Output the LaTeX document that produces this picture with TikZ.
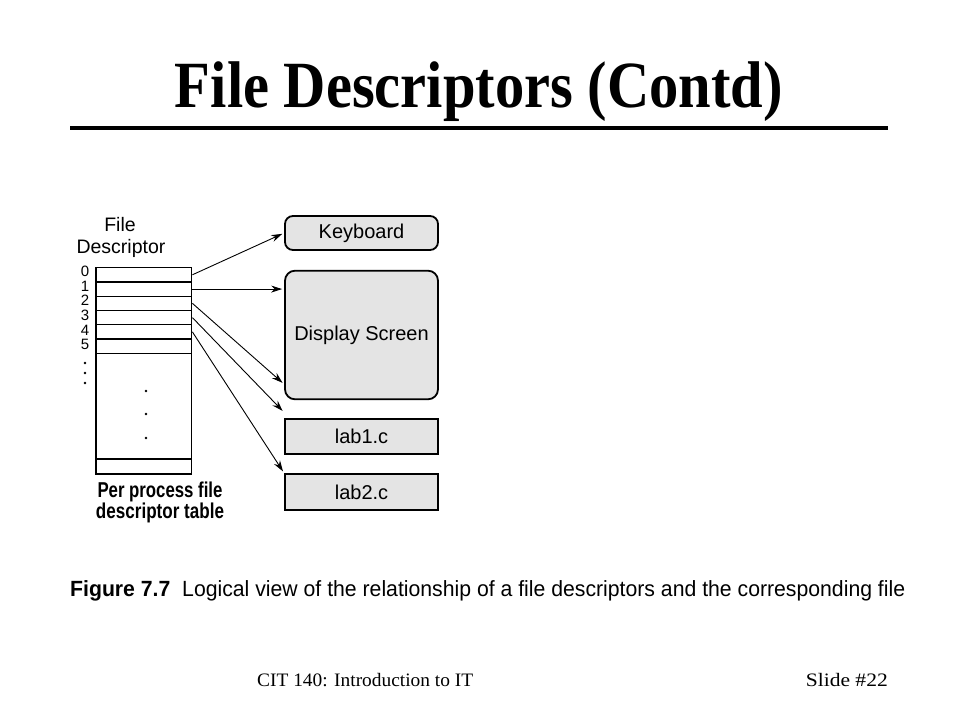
\documentclass[tikz,border=0pt]{standalone}
\usepackage{fontspec}
\setmainfont{Liberation Serif}
\setsansfont{Liberation Sans}
\usepackage{graphicx}
\usetikzlibrary{arrows.meta}
\begin{document}
\begin{tikzpicture}[x=1pt,y=-1pt,
  row/.style={rectangle, draw=black, line width=1.4pt, inner sep=0pt, minimum width=95.7pt},
  dev/.style={rectangle, draw=black, fill=boxfill, line width=1.8pt, inner sep=0pt, minimum width=153pt, font=\sffamily\fontsize{20}{20}\selectfont},
  num/.style={inner sep=0pt, font=\sffamily\fontsize{15}{15}\selectfont},
  dot/.style={circle, fill=black, inner sep=0pt, minimum size=2.6pt},
  arr/.style={-{Stealth[length=11pt,width=7pt]}, line width=0.9pt, shorten >=2pt}]
%Define all colors here.
\definecolor{boxfill}{RGB}{228,228,228}

\useasboundingbox[fill=white] (0,0) rectangle (960,720);

% title
\node(title) at (479,107) [anchor=base, inner sep=0pt] {\resizebox{608pt}{\height}{\fontsize{66}{66}\selectfont\bfseries File Descriptors (Contd)}};
\draw[line width=4pt] (70,128) -- (888,128);

% descriptor table
\node(fd1) at (120,225) [inner sep=0pt, font=\sffamily\fontsize{19.5}{19.5}\selectfont] {File};
\node(fd2) at (121,248) [inner sep=0pt, font=\sffamily\fontsize{19.5}{19.5}\selectfont] {Descriptor};
\foreach \i in {0,...,5} {
  \node(r\i) at (143.85,274.8+14.27*\i) [row, minimum height=14.27pt] {};
  \node(d\i) at (85,271.5+14.6*\i) [num] {\i};
}
\node(rbig) at (143.85,406.2) [row, minimum height=105.7pt] {};
\node(rlast) at (143.85,466.5) [row, minimum height=15pt] {};
\foreach \y in {363,373,383} \node(v\y) at (85,\y) [dot] {};
\foreach \y in {391,414,438} \node(c\y) at (146,\y) [dot] {};
\node(tab1) at (160,491.7) [inner sep=0pt] {\resizebox{125pt}{\height}{\sffamily\fontsize{21.5}{21.5}\selectfont\bfseries Per process file}};
\node(tab2) at (160,513.3) [inner sep=0pt] {\resizebox{128pt}{\height}{\sffamily\fontsize{21.5}{21.5}\selectfont\bfseries descriptor table}};

% devices and files
\node(kbd) at (361.5,233) [dev, rounded corners=8pt, minimum height=34pt] {Keyboard};
\node(disp) at (361.5,335) [dev, rounded corners=10pt, minimum height=128.6pt] {Display Screen};
\node(lab1) at (361.5,436.8) [dev, minimum height=35pt] {lab1.c};
\node(lab2) at (361.5,492) [dev, minimum height=36pt] {lab2.c};

\draw[arr] (r0.east) -- (kbd.west);
\draw[arr] (r1.east) -- (r1.east -| disp.west);
\draw[arr] (r2.east) -- ([yshift=16pt]disp.south west);
\draw[arr] (r3.east) -- ([yshift=6pt]lab1.north west);
\draw[arr] (r4.east) -- (lab2.north west);

% caption and footer
\node(cap) at (70,596) [anchor=base west, inner sep=0pt] {\resizebox{835pt}{\height}{\sffamily\fontsize{22}{22}\selectfont\textbf{Figure 7.7}\ \ Logical view of the relationship of a file descriptors and the corresponding file}};
\node(foot) at (257,686) [anchor=base west, inner sep=0pt] {\resizebox{216pt}{\height}{\fontsize{19}{19}\selectfont CIT 140: Introduction to IT}};
\node(slide) at (888,686) [anchor=base east, inner sep=0pt] {\resizebox{82pt}{\height}{\fontsize{19}{19}\selectfont Slide \#22}};
\end{tikzpicture}
\end{document}
